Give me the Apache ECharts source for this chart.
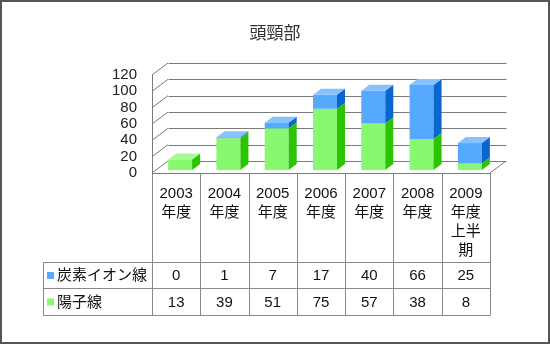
<!DOCTYPE html>
<html>
<head>
<meta charset="utf-8">
<script src="https://cdn.jsdelivr.net/npm/echarts@6/dist/echarts.min.js"></script>
<style>
html,body{margin:0;padding:0;background:#fff}
#c{width:550px;height:344px}
</style>
</head>
<body>
<div id="c"></div>
<script>
// 頭頸部: 年度別の治療患者数（陽子線・炭素イオン線）
const chartTitle = '頭頸部';
const categories = ['2003\n年度', '2004\n年度', '2005\n年度', '2006\n年度', '2007\n年度', '2008\n年度', '2009\n年度\n上半\n期'];
const seriesNames = ['炭素イオン線', '陽子線'];
const carbon = [0, 1, 7, 17, 40, 66, 25];
const proton = [13, 39, 51, 75, 57, 38, 8];
const yTicks = [0, 20, 40, 60, 80, 100, 120];

const FONT = '"Liberation Sans","Noto Sans CJK JP",sans-serif';
const GRID = { left: 152, top: 75, width: 338, height: 98 };
// depth of the walls and of the bars (pseudo 3D)
const WALL = [16, -12];
const BAR_OFF = [4, -3];
const BAR_DEPTH = [8, -6];
const BAR_W = 24;
const GRID_COLOR = '#7a7a7a';

const COLORS = {
  carbon: { front: '#55aaff', side: '#0a66cc', top: '#86c2ff' },
  proton: { front: '#88f870', side: '#2cc400', top: '#a8fa94' }
};

const chart = echarts.init(document.getElementById('c'));

function px(v) { return Math.round(v) + 0.5; }

// back wall, side wall and floor of the 3D frame
function renderFrame(params, api) {
  const bw = api.size([1, 0])[0];
  const x0 = api.coord([0, 0])[0] - bw / 2;
  const x1 = api.coord([categories.length - 1, 0])[0] + bw / 2;
  const y0 = api.coord([0, 0])[1];
  const children = [];
  const style = { stroke: GRID_COLOR, lineWidth: 1 };
  yTicks.forEach(t => {
    const y = api.coord([0, t])[1];
    children.push({ type: 'line', shape: { x1: x0, y1: y, x2: x0 + WALL[0], y2: y + WALL[1] }, style });
    children.push({ type: 'line', shape: { x1: px(x0 + WALL[0]), y1: px(y + WALL[1]), x2: px(x1 + WALL[0]), y2: px(y + WALL[1]) }, style });
  });
  children.push({ type: 'line', shape: { x1: px(x0), y1: px(y0), x2: px(x1), y2: px(y0) }, style });
  children.push({ type: 'line', shape: { x1: x1, y1: y0, x2: x1 + WALL[0], y2: y0 + WALL[1] }, style });
  return { type: 'group', children };
}

function makeBarRenderer(col) {
  return function (params, api) {
    const i = api.value(0), v = api.value(1), b = api.value(2);
    if (!v) return null;
    const pb = api.coord([i, b]);
    const pt = api.coord([i, b + v]);
    const left = pb[0] + BAR_OFF[0] - BAR_W / 2;
    const bottom = pb[1] + BAR_OFF[1];
    const top = pt[1] + BAR_OFF[1];
    const right = left + BAR_W;
    const dx = BAR_DEPTH[0], dy = BAR_DEPTH[1];
    return {
      type: 'group',
      children: [
        { type: 'rect', shape: { x: left, y: top, width: BAR_W, height: bottom - top }, style: { fill: col.front } },
        { type: 'polygon', shape: { points: [[right, top], [right + dx, top + dy], [right + dx, bottom + dy], [right, bottom]] }, style: { fill: col.side } },
        { type: 'polygon', shape: { points: [[left, top], [left + dx, top + dy], [right + dx, top + dy], [right, top]] }, style: { fill: col.top } }
      ]
    };
  };
}

chart.setOption({
  animation: false,
  backgroundColor: '#fff',
  title: {
    text: chartTitle, left: 'center', top: 21,
    textStyle: { fontFamily: FONT, fontSize: 17, fontWeight: 'normal', color: '#333' }
  },
  grid: { left: GRID.left, top: GRID.top, width: GRID.width, height: GRID.height },
  xAxis: {
    type: 'category', data: categories,
    axisLine: { show: false }, axisTick: { show: false }, axisLabel: { show: false }
  },
  yAxis: {
    type: 'value', min: 0, max: 120, interval: 20,
    axisLine: { show: true, lineStyle: { color: GRID_COLOR } },
    axisTick: { show: false },
    splitLine: { show: false },
    axisLabel: { fontFamily: FONT, fontSize: 15, color: '#222', margin: 15 }
  },
  series: [
    { type: 'custom', silent: true, renderItem: renderFrame, data: [[0, 0]], encode: { x: 0, y: 1 }, z: 1 },
    {
      name: seriesNames[1], type: 'custom', renderItem: makeBarRenderer(COLORS.proton),
      data: proton.map((v, i) => [i, v, 0]), encode: { x: 0, y: 1 }, z: 2
    },
    {
      name: seriesNames[0], type: 'custom', renderItem: makeBarRenderer(COLORS.carbon),
      data: carbon.map((v, i) => [i, v, proton[i]]), encode: { x: 0, y: 1 }, z: 3
    }
  ]
});

// data table under the plot, aligned to the category bands
(function drawTable() {
  const c0 = chart.convertToPixel({ xAxisIndex: 0 }, 0);
  const c1 = chart.convertToPixel({ xAxisIndex: 0 }, 1);
  const bw = c1 - c0;
  const xs = categories.map((_, i) => c0 - bw / 2 + i * bw);
  xs.push(c0 - bw / 2 + categories.length * bw);
  const yTop = GRID.top + GRID.height;
  const rowY = [262, 288, 315];
  const labelLeft = 43;
  const lineStyle = { stroke: '#888', lineWidth: 1 };
  const els = [];
  xs.forEach(x => els.push({ type: 'line', shape: { x1: px(x), y1: yTop, x2: px(x), y2: rowY[2] }, style: lineStyle }));
  rowY.forEach(y => els.push({ type: 'line', shape: { x1: labelLeft, y1: px(y), x2: px(xs[xs.length - 1]), y2: px(y) }, style: lineStyle }));
  els.push({ type: 'line', shape: { x1: px(labelLeft), y1: rowY[0], x2: px(labelLeft), y2: rowY[2] }, style: lineStyle });

  categories.forEach((cat, i) => {
    els.push({
      type: 'text', x: c0 + i * bw, y: 184,
      style: { text: cat, fontFamily: FONT, fontSize: 15, lineHeight: 19, fill: '#111', align: 'center', verticalAlign: 'top' }
    });
  });

  const rows = [
    { name: seriesNames[0], values: carbon, color: COLORS.carbon.front },
    { name: seriesNames[1], values: proton, color: COLORS.proton.front }
  ];
  rows.forEach((r, k) => {
    const cy = (rowY[k] + rowY[k + 1]) / 2 + 1;
    els.push({ type: 'rect', shape: { x: 47, y: cy - 4, width: 7, height: 7 }, style: { fill: r.color } });
    els.push({
      type: 'text', x: 57, y: cy,
      style: { text: r.name, fontFamily: FONT, fontSize: 15, fill: '#111', align: 'left', verticalAlign: 'middle' }
    });
    r.values.forEach((v, i) => {
      els.push({
        type: 'text', x: c0 + i * bw, y: cy,
        style: { text: String(v), fontFamily: FONT, fontSize: 15, fill: '#111', align: 'center', verticalAlign: 'middle' }
      });
    });
  });

  // outer frame of the figure
  els.push({ type: 'rect', shape: { x: 1, y: 1, width: 548, height: 342 }, style: { fill: 'none', stroke: '#555', lineWidth: 2 } });

  chart.setOption({ graphic: els });
})();
</script>
</body>
</html>
